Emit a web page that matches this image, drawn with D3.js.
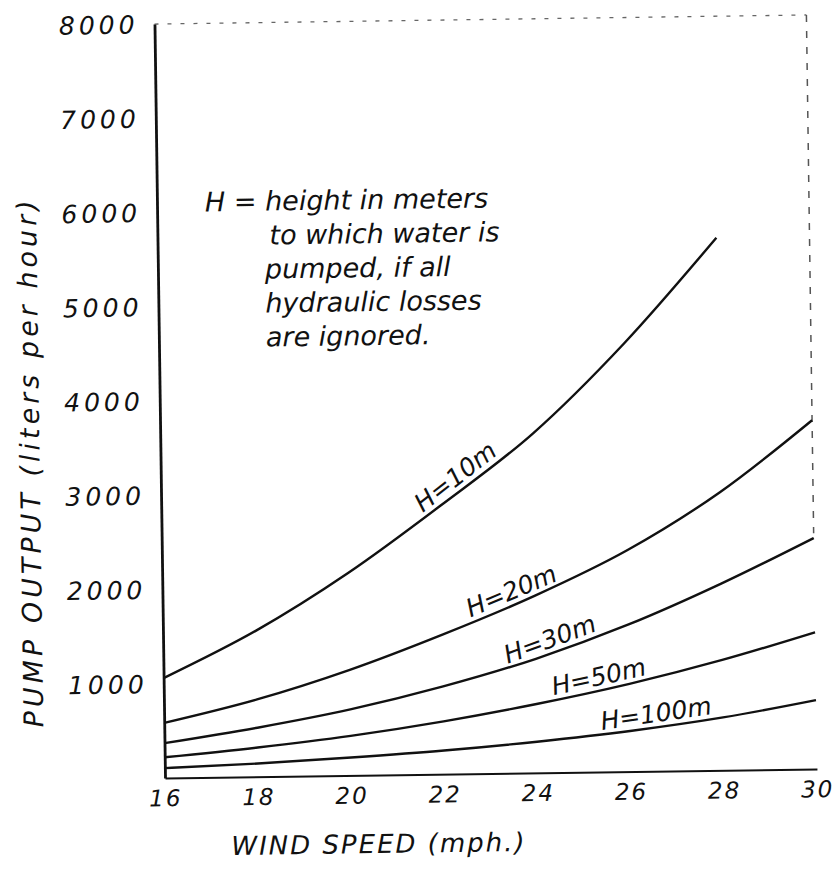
<!DOCTYPE html>
<html>
<head>
<meta charset="utf-8">
<script src="https://cdn.jsdelivr.net/npm/d3@7"></script>
<style>
  body { margin: 0; background: #fff; }
  text { font-family: "DejaVu Sans", sans-serif; font-style: italic; fill: #111; }
</style>
</head>
<body>
<svg id="canvas" width="838" height="889"></svg>
<script>
// wind speed (mph) and pump output (liters per hour) for each height
let speeds = [16, 18, 20, 22, 24, 26, 28, 30]
let h10 = [1060, 1550, 2150, 2850, 3600, 4550, 5650]   // curve stops at 28 mph
let h20 = [585, 820, 1120, 1480, 1880, 2350, 2950, 3700]
let h30 = [370, 520, 700, 930, 1210, 1560, 1980, 2450]
let h50 = [220, 310, 420, 560, 730, 930, 1170, 1450]
let h100 = [105, 140, 190, 250, 330, 430, 560, 730]
let curveNames = ['H=10m', 'H=20m', 'H=30m', 'H=50m', 'H=100m']
let labelAt = [22.5, 23.6, 24.4, 25.4, 26.6]   // mph where each curve label sits
let yTicks = [1000, 2000, 3000, 4000, 5000, 6000, 7000, 8000]
let xTicks = [16, 18, 20, 22, 24, 26, 28, 30]
let note = ['H = height in meters', 'to which water is', 'pumped, if all', 'hydraulic losses', 'are ignored.']

let plotLeft = 165, plotRight = 817, plotTop = 24, plotBottom = 778

let canvas = d3.select('#canvas')
canvas.append('rect').attr('width', 838).attr('height', 889).attr('fill', '#fff')

// the scanned page is slightly tilted
let page = canvas.append('g').attr('transform', 'rotate(-0.8,' + plotLeft + ',' + plotBottom + ')')

let xScale = d3.scaleLinear().domain([16, 30]).range([plotLeft, plotRight])
let yScale = d3.scaleLinear().domain([0, 8000]).range([plotBottom, plotTop])

// frame: faint dotted top and right edges
page.append('line')
    .attr('x1', plotLeft).attr('x2', plotRight).attr('y1', plotTop).attr('y2', plotTop)
    .attr('stroke', '#666').attr('stroke-width', 1.3).attr('stroke-dasharray', '4,9')
page.append('line')
    .attr('x1', plotRight).attr('x2', plotRight).attr('y1', plotTop).attr('y2', yScale(2500))
    .attr('stroke', '#555').attr('stroke-width', 1.5).attr('stroke-dasharray', '7,9')

// axes
let yAxis = d3.axisLeft(yScale).tickValues(yTicks).tickFormat(d3.format('d')).tickSize(0).tickPadding(16)
let yG = page.append('g').attr('transform', 'translate(' + plotLeft + ',0)').call(yAxis)
yG.select('.domain').attr('stroke', '#111').attr('stroke-width', 2.8)
yG.selectAll('text')
    .style('font-size', '25px').attr('letter-spacing', 4).attr('dy', '0.35em')
    .attr('fill', '#111')

let xAxis = d3.axisBottom(xScale).tickValues(xTicks).tickSize(0).tickPadding(12)
let xG = page.append('g').attr('transform', 'translate(0,' + plotBottom + ')').call(xAxis)
xG.select('.domain').attr('stroke', '#111').attr('stroke-width', 2)
xG.selectAll('text')
    .style('font-size', '23px').attr('letter-spacing', 2).attr('fill', '#111')

// axis titles
page.append('text')
    .attr('transform', 'translate(44,460) rotate(-90)')
    .attr('text-anchor', 'middle')
    .style('font-size', '27px').attr('letter-spacing', 4)
    .text('PUMP OUTPUT (liters per hour)')
page.append('text')
    .attr('x', 378).attr('y', 856)
    .attr('text-anchor', 'middle')
    .style('font-size', '26px').attr('letter-spacing', 2)
    .text('WIND SPEED (mph.)')

// curves
let series = [h10, h20, h30, h50, h100]
let line = d3.line()
    .x((d) => xScale(d[0]))
    .y((d) => yScale(d[1]))
    .curve(d3.curveMonotoneX)

series.forEach((vals, i) => {
    let pts = vals.map((v, j) => [speeds[j], v])
    page.append('path')
        .attr('d', line(pts))
        .attr('fill', 'none')
        .attr('stroke', '#111')
        .attr('stroke-width', 2.4)

    // label riding on the curve
    let s = labelAt[i]
    let j = Math.min(Math.floor((s - 16) / 2), vals.length - 2)
    let t = (s - speeds[j]) / 2
    let v = vals[j] + t * (vals[j + 1] - vals[j])
    let px = xScale(s), py = yScale(v)
    let ang = Math.atan2(yScale(vals[j + 1]) - yScale(vals[j]), xScale(speeds[j + 1]) - xScale(speeds[j])) * 180 / Math.PI
    page.append('text')
        .attr('transform', 'translate(' + px + ',' + py + ') rotate(' + ang + ') translate(0,-5)')
        .attr('text-anchor', 'middle')
        .style('font-size', '25px')
        .text(curveNames[i])
})

// explanatory note
let noteX = [213, 277, 272, 272, 272]
note.forEach((s, i) => {
    page.append('text')
        .attr('x', noteX[i])
        .attr('y', 212 + i * 34)
        .style('font-size', '27px')
        .text(s)
})
</script>
</body>
</html>
